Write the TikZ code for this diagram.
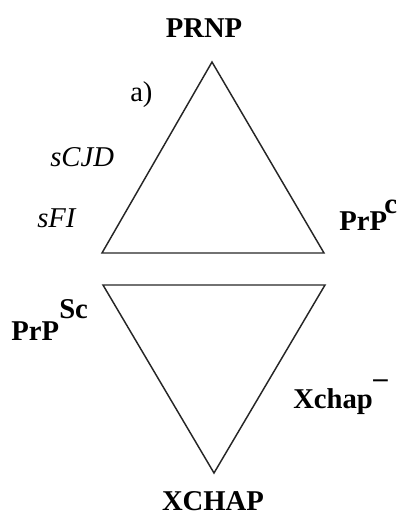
\documentclass[tikz,border=0pt]{standalone}
\usepackage{fontspec}
\setmainfont{Liberation Serif}
\begin{document}
\begin{tikzpicture}[x=0.75pt,y=-0.75pt,
  lbl/.style={inner sep=0pt,font=\fontsize{21.5}{25}\selectfont\bfseries},
  ilbl/.style={inner sep=0pt,font=\fontsize{21.5}{25}\selectfont\itshape},
  rlbl/.style={inner sep=0pt,font=\fontsize{21.5}{25}\selectfont},
  tri/.style={draw=black!85,line width=1.1pt,line join=miter}]
\useasboundingbox (0,0) rectangle (403,522);
% upper triangle
\coordinate (ua) at (212,62);
\coordinate (ul) at (102,253);
\coordinate (ur) at (324,253);
\draw[tri] (ua) -- (ul) -- (ur) -- cycle;
% lower triangle
\coordinate (ll) at (103,285);
\coordinate (lr) at (325,285);
\coordinate (lb) at (214,473);
\draw[tri] (ll) -- (lr) -- (lb) -- cycle;
% labels
\node[lbl,anchor=base] (prnp) at (204,37) {PRNP};
\node[rlbl,anchor=base west] (a) at (130,101) {a)};
\node[ilbl,anchor=base west] (scjd) at (50,166) {sCJD};
\node[ilbl,anchor=base west] (sfi) at (37,227) {sFI};
\node[lbl,anchor=base west] (prpc) at (339,230) {PrP};
\node[lbl,anchor=base west] (c) at (384,213) {c};
\node[lbl,anchor=base west] (prpsc) at (11,340) {PrP};
\node[lbl,anchor=base west] (sc) at (59,318) {Sc};
\node[lbl,anchor=base west] (xchap) at (293,408) {Xchap};
\node[lbl,anchor=base west] (minus) at (373,387) {\char"2013};
\node[lbl,anchor=base] (xcap) at (213,510) {XCHAP};
\end{tikzpicture}
\end{document}
